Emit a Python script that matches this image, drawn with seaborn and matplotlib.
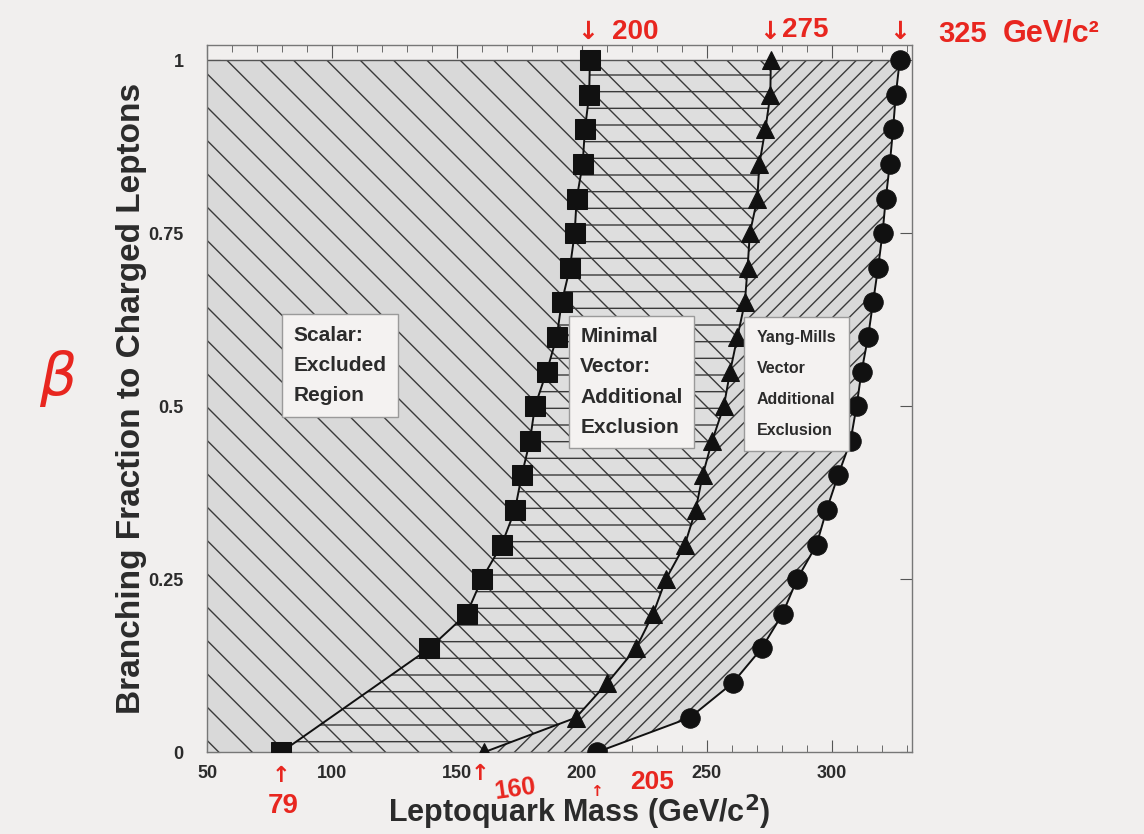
import numpy as np
import pandas as pd
import matplotlib
matplotlib.use("Agg")
import matplotlib.pyplot as plt
import seaborn as sns
from matplotlib.ticker import MultipleLocator, FixedLocator, FixedFormatter

# ---------------- data ----------------
scalar_beta = [0.0, 0.15, 0.20, 0.25, 0.30, 0.35, 0.40, 0.45, 0.50, 0.55,
               0.60, 0.65, 0.70, 0.75, 0.80, 0.85, 0.90, 0.95, 1.0]
scalar_mass = [79.6, 138.9, 153.9, 159.9, 167.9, 173.2, 175.9, 179.2, 181.2, 185.9,
               189.9, 191.9, 195.2, 197.1, 197.9, 200.3, 201.2, 202.9, 203.2]

vector_beta = [0.0, 0.05, 0.10, 0.15, 0.20, 0.25, 0.30, 0.35, 0.40, 0.45, 0.50,
               0.55, 0.60, 0.65, 0.70, 0.75, 0.80, 0.85, 0.90, 0.95, 1.0]
minimal_mass = [160.8, 197.6, 210.1, 221.6, 228.5, 233.6, 241.2, 245.5, 248.3, 252.1, 256.8,
                259.3, 262.2, 265.2, 266.3, 267.2, 270.2, 271.0, 273.4, 275.4, 275.6]
yangmills_mass = [205.9, 243.2, 260.3, 271.9, 280.3, 286.1, 293.9, 297.9, 302.5, 307.5, 309.9,
                  311.9, 314.5, 316.5, 318.5, 320.3, 321.6, 323.2, 324.5, 325.6, 327.2]

x_ticks = [50, 100, 150, 200, 250, 300]
y_ticks = [0, 0.25, 0.5, 0.75, 1]
y_tick_labels = ["0", "0.25", "0.5", "0.75", "1"]

region_labels = ["Scalar:\nExcluded\nRegion",
                 "Minimal\nVector:\nAdditional\nExclusion",
                 "Yang-Mills\nVector\nAdditional\nExclusion"]

annot_values = ["200", "275", "325"]
low_values = ["79", "160", "205"]

# ---------------- style ----------------
sns.set_theme(style="ticks")
plt.rcParams["font.family"] = ["Liberation Sans", "DejaVu Sans"]
plt.rcParams["hatch.linewidth"] = 1.0
plt.rcParams["hatch.color"] = "#3a3a3a"
bg = "#f1efee"

fig = plt.figure(figsize=(11.44, 8.34), dpi=100, facecolor=bg)
ax = fig.add_axes([0.181, 0.098, 0.616, 0.848])
ax.set_facecolor(bg)

xmin, xmax = 50, 332
ymin, ymax = 0, 1.022
ax.set_xlim(xmin, xmax)
ax.set_ylim(ymin, ymax)

# ---------------- hatched regions (layered) ----------------
# Yang-Mills additional exclusion: everything left of the circle curve
ax.fill_betweenx(vector_beta, xmin, yangmills_mass, facecolor="#d9d9d9",
                 edgecolor="#3a3a3a", hatch="//", linewidth=0, zorder=1.0)
# minimal vector additional exclusion: everything left of the triangle curve
ax.fill_betweenx(vector_beta, xmin, minimal_mass, facecolor="#dedede",
                 edgecolor="#3a3a3a", hatch="\\", linewidth=0, zorder=1.1)
ax.fill_betweenx(vector_beta, xmin, minimal_mass, facecolor="none",
                 edgecolor="#3a3a3a", hatch="-", linewidth=0, zorder=1.2)
# scalar excluded region: left of the square curve
ax.fill_betweenx(scalar_beta, xmin, scalar_mass, facecolor="#d9d9d9",
                 edgecolor="#3a3a3a", hatch="\\", linewidth=0, zorder=1.3)
ax.hlines(vector_beta[-1], xmin, yangmills_mass[-1], color="#555555", lw=1.0, zorder=2)

# ---------------- limit curves ----------------
common = dict(color="#111111", lw=1.4, estimator=None, sort=False, ax=ax,
              markeredgecolor="#111111", zorder=4, legend=False)
sns.lineplot(x=scalar_mass, y=scalar_beta, marker="s", markersize=14, **common)
sns.lineplot(x=minimal_mass, y=vector_beta, marker="^", markersize=13, **common)
sns.lineplot(x=yangmills_mass, y=vector_beta, marker="o", markersize=14, **common)

# ---------------- region labels ----------------
box = dict(boxstyle="square,pad=0.55", facecolor="#f4f2f1", edgecolor="#9a9a9a", lw=1.0)
ax.text(103.2, 0.559, region_labels[0], ha="center", va="center", multialignment="left",
        fontsize=15, fontweight="bold", color="#2b2b2b", linespacing=1.75, bbox=box, zorder=6)
ax.text(219.8, 0.535, region_labels[1], ha="center", va="center", multialignment="left",
        fontsize=15, fontweight="bold", color="#2b2b2b", linespacing=1.75, bbox=box, zorder=6)
box2 = dict(boxstyle="square,pad=0.8", facecolor="#f4f2f1", edgecolor="#9a9a9a", lw=1.0)
ax.text(285.8, 0.532, region_labels[2], ha="center", va="center", multialignment="left",
        fontsize=11.5, fontweight="bold", color="#2b2b2b", linespacing=2.35, bbox=box2, zorder=6)

# ---------------- axes, ticks ----------------
ax.xaxis.set_major_locator(FixedLocator(x_ticks))
ax.xaxis.set_minor_locator(MultipleLocator(10))
ax.yaxis.set_major_locator(FixedLocator(y_ticks))
ax.yaxis.set_major_formatter(FixedFormatter(y_tick_labels))
ax.tick_params(axis="both", which="both", direction="in", top=True, right=True,
               color="#555555")
ax.tick_params(axis="both", which="major", length=9, width=0.8, labelsize=13,
               labelcolor="#2b2b2b")
ax.tick_params(axis="x", which="minor", length=5, width=0.6)
ax.tick_params(axis="x", which="major", pad=9)
ax.tick_params(axis="y", which="major", pad=17)
for lab in ax.get_xticklabels() + ax.get_yticklabels():
    lab.set_fontweight("bold")
for s in ax.spines.values():
    s.set_color("#777777")
    s.set_linewidth(1.0)

ax.set_xlabel("Leptoquark Mass (GeV/c$^{\\mathbf{2}}$)", fontsize=22, fontweight="bold",
              color="#2b2b2b")
ax.xaxis.set_label_coords(0.528, -0.057)
ax.set_ylabel("Branching Fraction to Charged Leptons", fontsize=24, fontweight="bold",
              color="#2b2b2b")
ax.yaxis.set_label_coords(-0.085, 0.5)

# ---------------- red hand annotations ----------------
red = "#e8261f"
W, H = 1144, 834
def ftext(px, py, s, weight="bold", **kw):
    fig.text(px / W, 1 - py / H, s, color=red, fontweight=weight, **kw)

ftext(588, 32, "\u2193", fontsize=18, ha="center", va="center", family="DejaVu Sans")
ftext(612, 32, annot_values[0], fontsize=20, ha="left", va="center")
ftext(770, 32, "\u2193", fontsize=18, ha="center", va="center", family="DejaVu Sans")
ftext(782, 30, annot_values[1], fontsize=20, ha="left", va="center")
ftext(900, 32, "\u2193", fontsize=18, ha="center", va="center", family="DejaVu Sans")
ftext(938, 34, annot_values[2], fontsize=21, ha="left", va="center")
ftext(1003, 34, "GeV/c\u00b2", fontsize=22, ha="left", va="center")
ftext(58, 378, "\u03b2", weight="normal", fontsize=42, ha="center", va="center",
      style="italic", family="DejaVu Sans")
ftext(281, 776, "\u2191", fontsize=16, ha="center", va="center", family="DejaVu Sans")
ftext(283, 806, low_values[0], fontsize=20, ha="center", va="center")
ftext(480, 774, "\u2191", fontsize=16, ha="center", va="center", family="DejaVu Sans")
ftext(515, 789, low_values[1], fontsize=18, ha="center", va="center", rotation=8)
ftext(596, 792, "\u2191", fontsize=11, ha="center", va="center", family="DejaVu Sans")
ftext(652, 782, low_values[2], fontsize=19, ha="center", va="center")

fig.savefig("out.png", dpi=100, facecolor=bg)
